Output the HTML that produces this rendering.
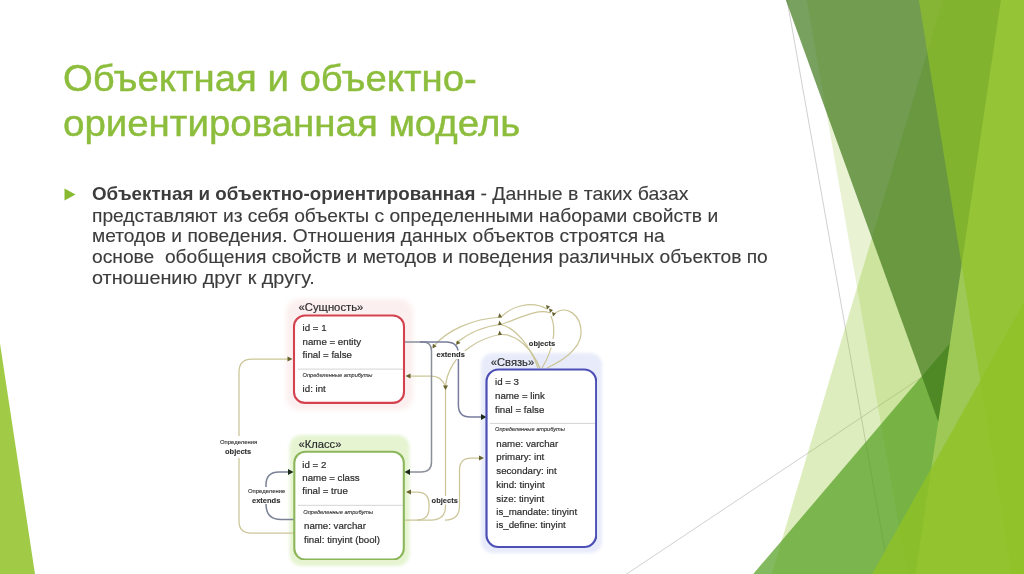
<!DOCTYPE html>
<html><head><meta charset="utf-8">
<style>
html,body{margin:0;padding:0;background:#fff;}
body{width:1024px;height:574px;overflow:hidden;position:relative;font-family:"Liberation Sans",sans-serif;}
.abs{position:absolute;white-space:nowrap;}
#deco{position:absolute;left:0;top:0;}
.t{color:#8cbd3c;font-size:37px;line-height:1;transform-origin:0 0;-webkit-text-stroke:0.45px #8cbd3c;}
.b{color:#3c3c3c;font-size:18.6px;line-height:1;transform-origin:0 0;-webkit-text-stroke:0.12px #3c3c3c;}
.b b{font-weight:bold;-webkit-text-stroke:0;}
.s{display:inline-block;transform-origin:0 0;white-space:pre;}
</style></head><body>
<svg id="deco" width="1024" height="574" viewBox="0 0 1024 574">
  <line x1="787.07" y1="0" x2="889.47" y2="576" stroke="#c4c4c4" stroke-width="0.8"/>
  <line x1="1023.73" y1="309.2" x2="623.64" y2="576" stroke="#c4c4c4" stroke-width="0.8"/>
  <polygon points="942.95,-0.71 1025,-0.71 1025,576 771.15,576" fill="#90c226" fill-opacity="0.30"/>
  <polygon points="806.59,-0.71 1025,-0.71 1025,576 907.62,576" fill="#90c226" fill-opacity="0.20"/>
  <polygon points="1024.5,256 1024.5,576 751.5,576" fill="#54a021" fill-opacity="0.72"/>
  <polygon points="785.6,-0.71 1025,-0.71 1025,576 994,576" fill="#3f7819" fill-opacity="0.70"/>
  <polygon points="1001.03,-0.71 1025,-0.71 1025,576 915.38,576" fill="#9ec956"/>
  <polygon points="918.76,-0.71 1025,-0.71 1025,576 1011.94,576" fill="#90c226" fill-opacity="0.65"/>
  <polygon points="1024.5,301.5 1024.5,576 871.11,576" fill="#90c226" fill-opacity="0.80"/>
  <polygon points="-1,337 -1,576 35.3,576" fill="#90c226" fill-opacity="0.85"/>
</svg>

<div class="abs t" id="t1" style="left:62.5px;top:60.2px;transform:scaleX(1.036)">Объектная и объектно-</div>
<div class="abs t" id="t2" style="left:62.5px;top:104.6px;transform:scaleX(1.039)">ориентированная модель</div>

<svg class="abs" style="left:63.6px;top:188.4px" width="12" height="13" viewBox="0 0 12 13"><polygon points="0.5,0.5 11.5,6.5 0.5,12.5" fill="#88bb32"/></svg>
<div class="abs b" id="l1" style="left:91.5px;top:185.4px;"><span class="s" style="transform:scaleX(1.009);margin-right:3.4px"><b>Объектная и объектно-ориентированная</b></span><span class="s" style="transform:scaleX(1.046)"> - Данные в таких базах</span></div>
<div class="abs b" id="l2" style="left:91.5px;top:206.5px;transform:scaleX(1.033)">представляют из себя объекты с определенными наборами свойств и</div>
<div class="abs b" id="l3" style="left:91.5px;top:227.1px;transform:scaleX(1.031)">методов и поведения. Отношения данных объектов строятся на</div>
<div class="abs b" id="l4" style="left:91.5px;top:248px;transform:scaleX(1.033)">основе&nbsp; обобщения свойств и методов и поведения различных объектов по</div>
<div class="abs b" id="l5" style="left:91.5px;top:268.6px;transform:scaleX(1.064)">отношению друг к другу.</div>

<svg id="diag" class="abs" style="left:0;top:0" width="1024" height="574" viewBox="0 0 1024 574">
  <defs>
    <filter id="bl" x="-20%" y="-20%" width="140%" height="140%"><feGaussianBlur stdDeviation="2.5"/></filter>
    <filter id="soft" x="0" y="0" width="100%" height="100%"><feGaussianBlur stdDeviation="0.35"/></filter>
  </defs>
  <!-- glows -->
  <rect x="286" y="299" width="127" height="111" rx="14" fill="#fcefef" filter="url(#bl)"/>
  <filter id="bl2" x="-20%" y="-20%" width="140%" height="140%"><feGaussianBlur stdDeviation="1.6"/></filter><rect x="289.5" y="435" width="120" height="131" rx="12" fill="#e6f4d2" filter="url(#bl2)"/>
  <rect x="481" y="353" width="121" height="200" rx="12" fill="#e8ecfa" filter="url(#bl2)"/>
  <g filter="url(#soft)">
  <!-- connectors: olive -->
  <g fill="none" stroke="#cbc597" stroke-width="1.25">
    <path d="M290 359 H252 Q239 359 239 372 V436"/>
    <path d="M239 458 V521 Q239 533 251 533 H294"/>
    <path d="M407 376 H432 Q441 376 445.5 386 V506 Q445.5 520 431 520 H405"/>
    <path d="M482 458 H471 Q459.5 458 459.5 470 V506 Q459.5 520 445 520"/>
    <path d="M408 492 H417 Q429 492 429 504 V508 Q429 520 417 520"/>
    <path d="M433 347 C447 330 472 319 501 317 C512 306 532 300 547 309"/>
    <path d="M456 343 C470 332 485 326 501 324.5 C520 318 538 308 550 313"/>
    <path d="M445.5 388 C446 372 456 356 470 347 C480 340 490 336 501 334.5 C518 334 532 350 540 368"/>
    <path d="M501 324.5 C515 328 530 345 538 368"/>
    <path d="M553 315 C566 303 582 315 581 334 C580 350 560 362 547 368"/>
    <path d="M551 316 C557 330 553 350 542 368"/>
  </g>
  <g fill="#66622e">
    <path d="M405.5 376 l5 -2.6 v5.2 z"/>
    <path d="M292.5 359 l-5 -2.6 v5.2 z"/>
    <path d="M484 458 l-5 -2.6 v5.2 z"/>
    <path d="M406 492 l5 -2.6 v5.2 z"/>
    <path d="M445.5 390 l-2.5 -4.5 h5 z"/>
    <path d="M502 317.5 l-2.5 -4.5 l-1.5 4.5 z"/>
    <path d="M502 325 l-2.5 -4.5 l-1.5 4.5 z"/>
    <path d="M502 335 l-2.5 -4.5 l-1.5 4.5 z"/>
    <path d="M547 309.5 l-1 -4.5 l4 1.5 z"/>
    <path d="M550 313 l-1 -4.5 l4 1.5 z"/>
    <path d="M553 316.5 l-1 -4.5 l4 1.5 z"/>
    <path d="M432.5 348.5 l0.3 -4.8 l3.8 2.6 z"/>
    <path d="M456 345 l1 -4.5 l3.5 2.5 z"/>
  </g>
  <!-- connectors: dark -->
  <g fill="none" stroke-width="1.5">
    <path d="M405 342 H423 Q431.5 342 431.5 351 V462 Q431.5 472 421 472 H408" stroke="#8b8f99"/>
    <path d="M420 342 H446 Q458.4 342 458.4 354 V405 Q458.4 417 470 417 H482" stroke="#777c9c"/>
    <path d="M290 472 H279 Q266 472 266 485 V487" stroke="#7b8296"/>
    <path d="M266 504 Q266 519.5 281 519.5 H294" stroke="#7b8296"/>
  </g>
  <g fill="#1e2a1e">
    <path d="M404.5 472 l5.5 -3 v6 z"/>
    <path d="M486.5 417 l-5.5 -3 v6 z"/>
    <path d="M293.5 472 l-5.5 -3 v6 z"/>
  </g>
  <!-- boxes -->
  <rect x="294" y="315.5" width="110" height="87.4" rx="11" fill="#fff" stroke="#d4424f" stroke-width="2.1"/>
  <rect x="294.3" y="451.8" width="109.5" height="107.8" rx="11" fill="#fff" stroke="#8cb65a" stroke-width="2.1"/>
  <rect x="486.5" y="369.5" width="109.7" height="177.5" rx="12" fill="#fff" stroke="#4b4fb6" stroke-width="2.2"/>
  <g stroke="#d4d4d4" stroke-width="1">
    <line x1="298" y1="369.1" x2="403" y2="369.1"/>
    <line x1="298" y1="505.3" x2="403" y2="505.3"/>
    <line x1="490" y1="423.4" x2="595" y2="423.4"/>
  </g>
  <g fill="#fff">
    <rect x="436" y="350.5" width="29" height="8.5"/>
    <rect x="431" y="496" width="27.5" height="8.5"/>
    <rect x="528.5" y="339" width="26.5" height="8.5"/>
  </g>
  <g font-family="Liberation Sans" fill="#2c2c2c" stroke="#2c2c2c" stroke-width="0.2">
    <text x="298.5" y="311.4" font-size="11.3">«Сущность»</text>
    <text x="298.5" y="447.7" font-size="11.2">«Класс»</text>
    <text x="490.8" y="365.6" font-size="11.2">«Связь»</text>
    <g font-size="9.7">
      <text x="302.6" y="331.2">id = 1</text>
      <text x="302.6" y="344.5">name = entity</text>
      <text x="302.6" y="357.9">final = false</text>
      <text x="302.6" y="392.2">id: int</text>
      <text x="302.3" y="468">id = 2</text>
      <text x="302.3" y="481">name = class</text>
      <text x="302.3" y="494">final = true</text>
      <text x="304" y="528.7">name: varchar</text>
      <text x="304" y="542.5">final: tinyint (bool)</text>
      <text x="495" y="385.1">id = 3</text>
      <text x="495" y="399">name = link</text>
      <text x="495" y="412.5">final = false</text>
      <text x="496.3" y="447">name: varchar</text>
      <text x="496.3" y="460.4">primary: int</text>
      <text x="496.3" y="474.2">secondary: int</text>
      <text x="496.3" y="487.8">kind: tinyint</text>
      <text x="496.3" y="501.5">size: tinyint</text>
      <text x="496.3" y="514.8">is_mandate: tinyint</text>
      <text x="496.3" y="528.3">is_define: tinyint</text>
    </g>
    <g font-size="5.65" font-style="italic" stroke-width="0.1">
      <text x="302.6" y="376.9">Определенные атрибуты</text>
      <text x="303.3" y="513.6">Определенные атрибуты</text>
      <text x="495" y="430.7">Определенные атрибуты</text>
    </g>
    <g font-size="5.9" stroke-width="0.1">
      <text x="220" y="444">Определения</text>
      <text x="248" y="492.5">Определение</text>
    </g>
    <g font-size="7.5" font-weight="bold" stroke-width="0.1">
      <text x="225" y="453.5">objects</text>
      <text x="252" y="503">extends</text>
      <text x="436.5" y="357.3">extends</text>
      <text x="528.8" y="345.7">objects</text>
      <text x="431.6" y="502.7">objects</text>
    </g>
  </g>
  </g>
</svg>

</body></html>
